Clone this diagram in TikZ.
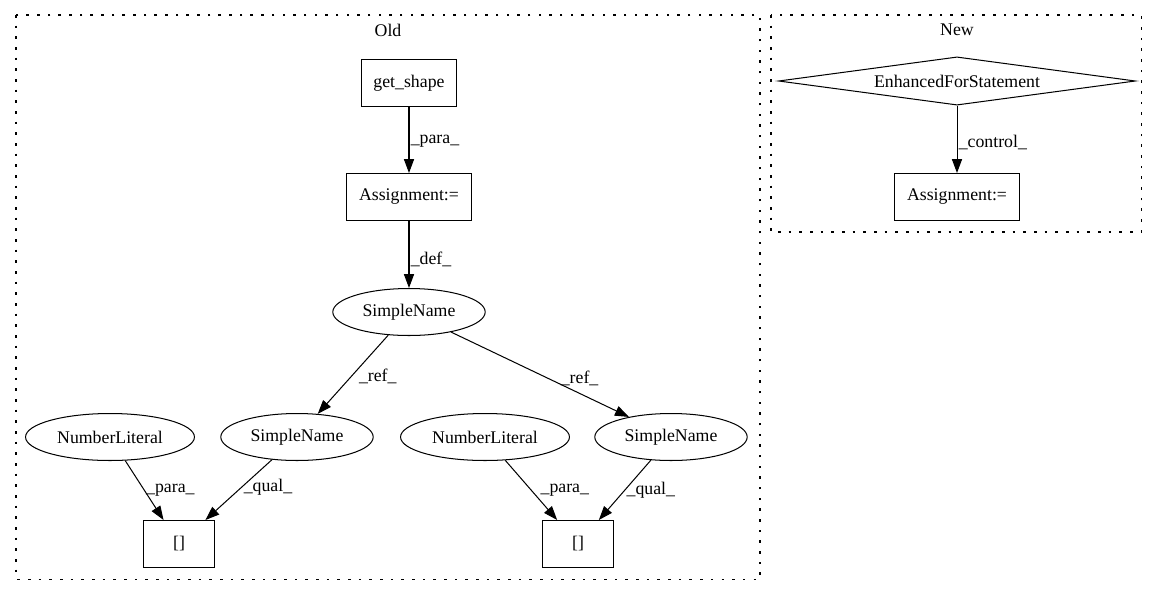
\documentclass[tikz,border=0pt]{standalone}
\usepackage{fontspec}
\setmainfont{Liberation Serif}
\usetikzlibrary{shapes.geometric,arrows.meta}

\begin{document}
\begin{tikzpicture}[x=0.7874pt, y=-0.7874pt, font=\fontsize{14}{16}\selectfont, line width=0.8pt,
  box/.style={rectangle, draw, minimum height=37pt, inner sep=0pt},
  oval/.style={ellipse, draw, minimum height=37pt, inner sep=0pt},
  cond/.style={diamond, draw, aspect=7, inner sep=0pt, minimum width=281pt, minimum height=38pt},
  cluster/.style={draw, dash pattern=on 2pt off 6.4pt},
  arr/.style={-{Triangle[length=11pt, width=8pt]}},
  lab/.style={anchor=west, inner sep=1pt}]
  \useasboundingbox (0,0) rectangle (1157,596);
  % clusters
  \draw[cluster] (16,15) rectangle (760,579);
  \draw[cluster] (771,15) rectangle (1141,232);
  \node (oldlbl) at (388,30) {Old};
  \node (newlbl) at (957,30) {New};
  % old graph
  \node[box, minimum width=75pt] (getshape) at (409,83) {get\_shape};
  \node[box, minimum width=98pt] (assign) at (409,197) {Assignment:=};
  \node[oval, minimum width=120pt] (sn) at (409,312) {SimpleName};
  \node[oval, minimum width=133pt] (nl1) at (110,437) {NumberLiteral};
  \node[oval, minimum width=120pt] (sn1) at (297,437) {SimpleName};
  \node[oval, minimum width=133pt] (nl2) at (485,437) {NumberLiteral};
  \node[oval, minimum width=120pt] (sn2) at (671,437) {SimpleName};
  \node[box, minimum width=56pt] (br1) at (179,544) {[]};
  \node[box, minimum width=56pt] (br2) at (578,544) {[]};
  % new graph
  \node[cond] (efs) at (957,81) {EnhancedForStatement};
  \node[box, minimum width=99pt] (assign2) at (957,197) {Assignment:=};
  % edges
  \draw[arr] (getshape) -- (assign) node[lab, pos=0.52] {\_para\_};
  \draw[arr] (assign) -- (sn) node[lab, pos=0.57] {\_def\_};
  \draw[arr] (sn) -- (sn1) node[lab, pos=0.53, xshift=5pt] {\_ref\_};
  \draw[arr] (sn) -- (sn2) node[lab, pos=0.55, xshift=8pt] {\_ref\_};
  \draw[arr] (nl1) -- (br1) node[lab, pos=0.5] {\_para\_};
  \draw[arr] (sn1) -- (br1) node[lab, pos=0.45] {\_qual\_};
  \draw[arr] (nl2) -- (br2) node[lab, pos=0.5, xshift=6pt] {\_para\_};
  \draw[arr] (sn2) -- (br2) node[lab, pos=0.5] {\_qual\_};
  \draw[arr] (efs) -- (assign2) node[lab, pos=0.54] {\_control\_};
\end{tikzpicture}
\end{document}
